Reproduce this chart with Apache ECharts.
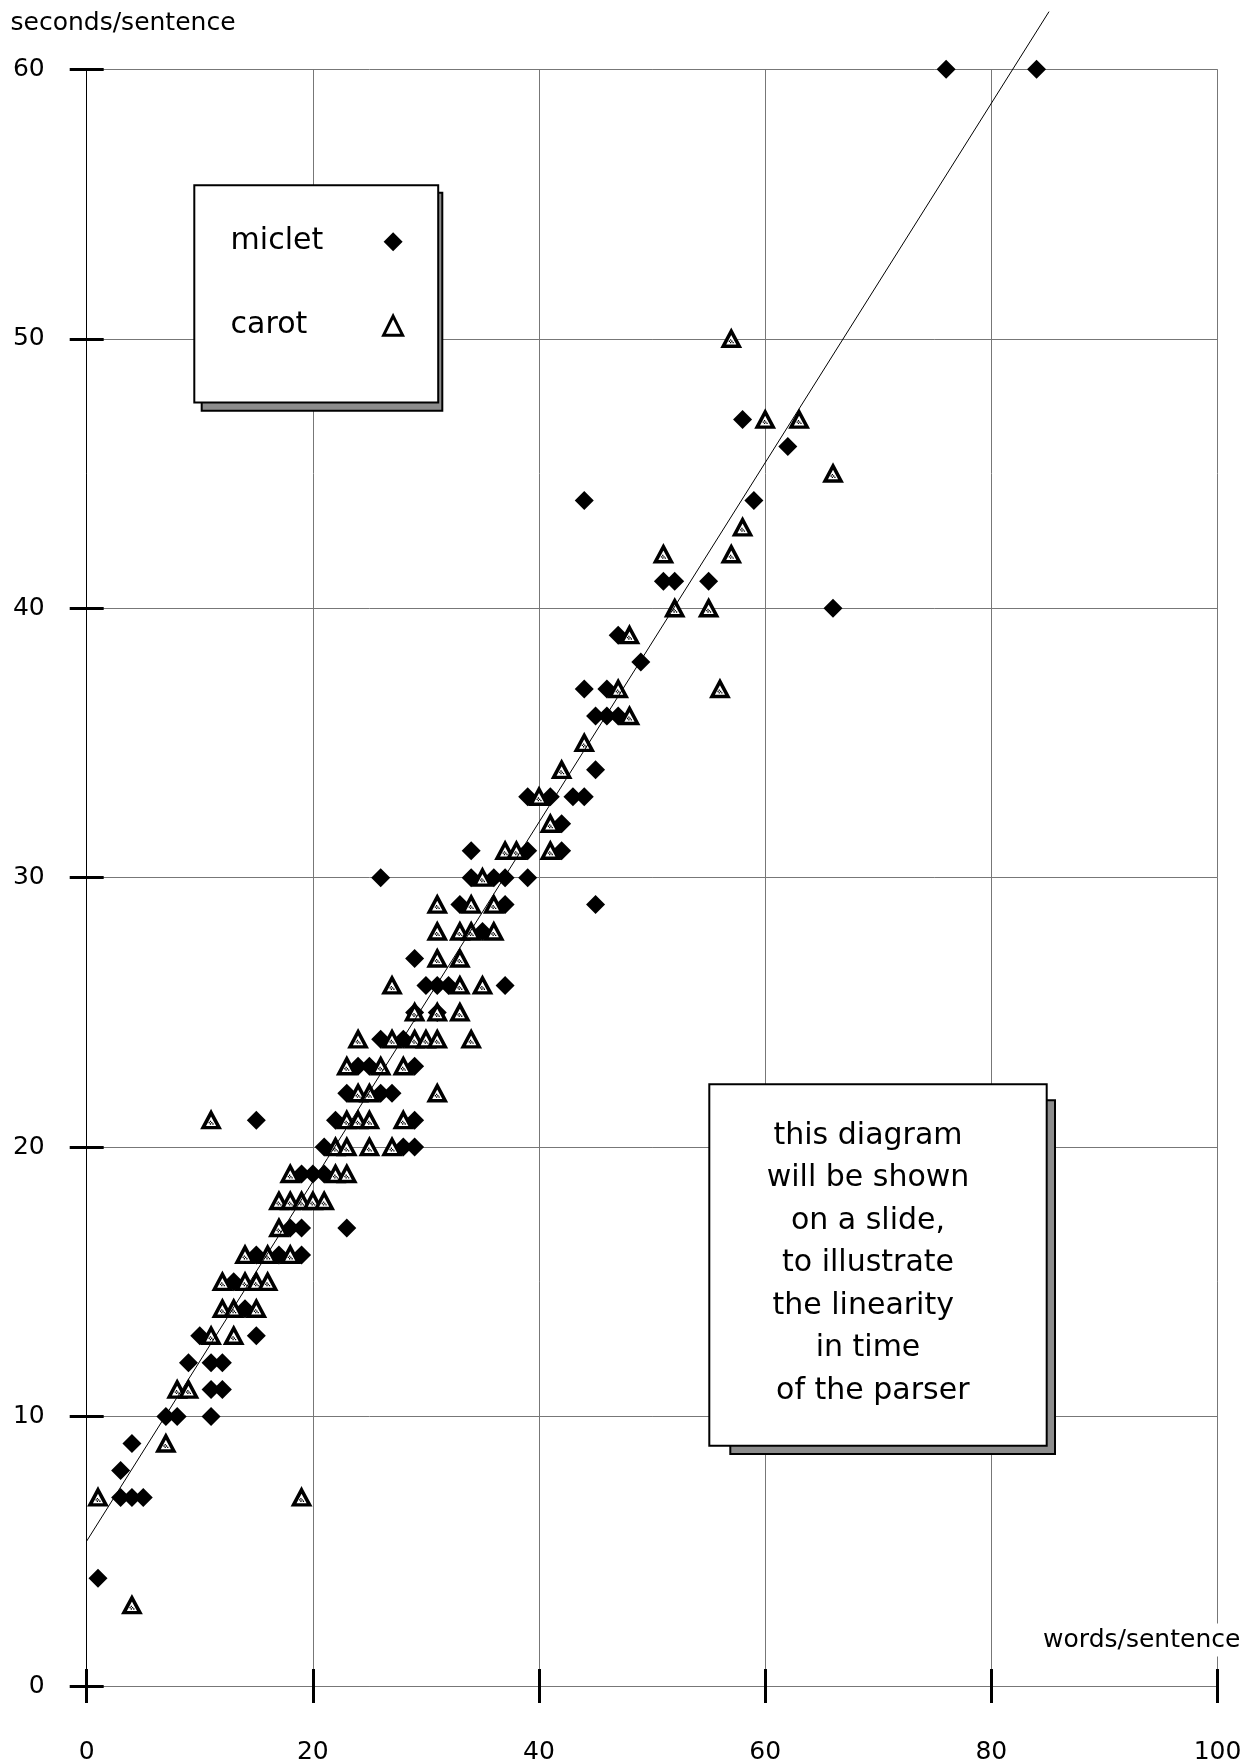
<!DOCTYPE html>
<html>
<head>
<meta charset="utf-8">
<script src="https://cdn.jsdelivr.net/npm/echarts@6/dist/echarts.min.js"></script>
<style>
html,body{margin:0;padding:0;background:#fff;}
#c{width:1256px;height:1764px;}
</style>
</head>
<body>
<div id="c"></div>
<script>
// ---- data ----
const seriesNames = ['miclet', 'carot'];
const xAxisTitle = 'words/sentence';
const yAxisTitle = 'seconds/sentence';
const xTickValues = [0, 20, 40, 60, 80, 100];
const yTickValues = [0, 10, 20, 30, 40, 50, 60];

// [words/sentence, seconds/sentence]
const micletPoints = [
  [76,60],[84,60],
  [58,47],[62,46],[44,44],[59,44],
  [51,41],[52,41],[55,41],[66,40],
  [47,39],[49,38],[44,37],[46,37],
  [45,36],[46,36],[47,36],[45,34],
  [39,33],[41,33],[43,33],[44,33],[42,32],
  [34,31],[39,31],[42,31],
  [26,30],[34,30],[36,30],[37,30],[39,30],
  [33,29],[37,29],[45,29],[35,28],[29,27],
  [30,26],[31,26],[32,26],[37,26],
  [29,25],[31,25],
  [26,24],[28,24],
  [24,23],[25,23],[29,23],
  [23,22],[26,22],[27,22],
  [15,21],[22,21],[29,21],
  [21,20],[28,20],[29,20],
  [19,19],[20,19],[21,19],
  [18,17],[19,17],[23,17],
  [15,16],[17,16],[19,16],
  [13,15],[14,14],[10,13],[15,13],
  [9,12],[11,12],[12,12],[11,11],[12,11],
  [7,10],[8,10],[11,10],[4,9],[3,8],
  [3,7],[4,7],[5,7],[1,4]
];

const carotPoints = [
  [57,50],[60,47],[63,47],[66,45],[58,43],[51,42],[57,42],
  [52,40],[55,40],[48,39],[47,37],[56,37],[48,36],[44,35],
  [42,34],[40,33],[41,32],[37,31],[38,31],[41,31],[35,30],
  [31,29],[34,29],[36,29],[31,28],[33,28],[34,28],[36,28],
  [31,27],[33,27],[27,26],[33,26],[35,26],[29,25],[31,25],[33,25],
  [24,24],[27,24],[29,24],[30,24],[31,24],[34,24],
  [23,23],[26,23],[28,23],[24,22],[25,22],[31,22],
  [11,21],[23,21],[24,21],[25,21],[28,21],
  [22,20],[23,20],[25,20],[27,20],
  [18,19],[22,19],[23,19],
  [17,18],[18,18],[19,18],[20,18],[21,18],
  [17,17],[14,16],[16,16],[18,16],
  [12,15],[14,15],[15,15],[16,15],
  [12,14],[13,14],[15,14],[11,13],[13,13],
  [8,11],[9,11],[7,9],[1,7],[19,7],[4,3]
];

// fitted straight line (end points)
const fitLine = [[0, 5.38], [85.1, 62.14]];

const noteLines = [
  'this diagram', 'will be shown', 'on a slide,', 'to illustrate',
  'the linearity ', 'in time', ' of the parser'
];

// ---- chart ----
const FONT = '"DejaVu Sans", Verdana, sans-serif';
const chart = echarts.init(document.getElementById('c'), null, {renderer: 'canvas'});

const xMin = xTickValues[0], xMax = xTickValues[xTickValues.length - 1];
const xInt = xTickValues[1] - xTickValues[0];
const yMin = yTickValues[0], yMax = yTickValues[yTickValues.length - 1];
const yInt = yTickValues[1] - yTickValues[0];

const GRID = {left: 86.7, top: 69.3, width: 1130.8, height: 1616.7};
const GRID_COLOR = '#777';
// small dithered speck drawn inside each triangle
const SPECK = 'path://M1,0h1v1h-1z M0,1h1v1h-1z M2,1h1v1h-1z M1,2h1v1h-1z M3,2h1v1h-1z';

function baseX(extra) {
  return Object.assign({
    type: 'value', gridIndex: 0, position: 'bottom',
    min: xMin, max: xMax, interval: xInt
  }, extra);
}
function baseY(extra) {
  return Object.assign({
    type: 'value', gridIndex: 0, position: 'left',
    min: yMin, max: yMax, interval: yInt
  }, extra);
}

const option = {
  animation: false,
  backgroundColor: '#fff',
  grid: Object.assign({outerBoundsMode: 'none', containLabel: false}, GRID),
  xAxis: [
    baseX({
      axisLine: {show: true, onZero: false, lineStyle: {color: GRID_COLOR, width: 1}},
      axisTick: {show: true, inside: false, length: 17, lineStyle: {color: '#000', width: 3}},
      axisLabel: {show: true, margin: 54, fontSize: 25, color: '#000', fontFamily: FONT,
                  showMinLabel: true, showMaxLabel: true},
      splitLine: {show: true, lineStyle: {color: GRID_COLOR, width: 1}}
    }),
    baseX({
      axisLine: {show: false},
      axisTick: {show: true, inside: true, length: 17, lineStyle: {color: '#000', width: 3}},
      axisLabel: {show: false},
      splitLine: {show: false}
    })
  ],
  yAxis: [
    baseY({
      axisLine: {show: true, onZero: false, lineStyle: {color: '#000', width: 1}},
      axisTick: {show: true, inside: false, length: 17, lineStyle: {color: '#000', width: 3}},
      axisLabel: {show: true, margin: 42, fontSize: 25, color: '#000', fontFamily: FONT,
                  showMinLabel: true, showMaxLabel: true},
      splitLine: {show: true, lineStyle: {color: GRID_COLOR, width: 1}}
    }),
    baseY({
      axisLine: {show: false},
      axisTick: {show: true, inside: true, length: 17, lineStyle: {color: '#000', width: 3}},
      axisLabel: {show: false},
      splitLine: {show: false}
    })
  ],
  legend: {
    data: [
      {name: seriesNames[0]},
      {name: seriesNames[1], itemStyle: {borderWidth: 3}}
    ],
    orient: 'vertical',
    left: 194.3, top: 185.3,
    align: 'right',
    itemWidth: 19, itemHeight: 19, itemGap: 54,
    padding: [41.4, 34.1, 61.8, 36.3],
    backgroundColor: '#fff',
    borderColor: '#000', borderWidth: 2, borderRadius: 0,
    selectedMode: false,
    formatter: '{t|{name}}',
    textStyle: {
      fontSize: 30, fontFamily: FONT, color: '#000',
      rich: {t: {width: 148, align: 'left', fontSize: 30, lineHeight: 30, fontFamily: FONT, color: '#000'}}
    },
    z: 6
  },
  series: [
    {
      name: seriesNames[0], type: 'scatter',
      xAxisIndex: 0, yAxisIndex: 0,
      data: micletPoints,
      symbol: 'diamond', symbolSize: 19,
      itemStyle: {color: '#000', opacity: 1},
      emphasis: {disabled: true},
      z: 2
    },
    {
      name: seriesNames[1], type: 'scatter',
      xAxisIndex: 0, yAxisIndex: 0,
      data: carotPoints,
      symbol: 'triangle', symbolSize: [16, 15],
      itemStyle: {color: '#fff', borderColor: '#000', borderWidth: 3.5, opacity: 1},
      emphasis: {disabled: true},
      z: 3
    },
    {
      // dither speck inside the carot triangles (same data, not in legend)
      name: 'carot-texture', type: 'scatter',
      xAxisIndex: 0, yAxisIndex: 0,
      data: carotPoints,
      symbol: SPECK, symbolSize: [5, 4], symbolOffset: [0, 2.5],
      itemStyle: {color: '#000', opacity: 1},
      silent: true,
      emphasis: {disabled: true},
      z: 3
    },
    {
      name: 'fit', type: 'line',
      xAxisIndex: 0, yAxisIndex: 0,
      data: fitLine,
      symbol: 'none', showSymbol: false,
      clip: false, silent: true,
      lineStyle: {color: '#000', width: 1},
      z: 4
    }
  ],
  graphic: [
    // axis titles
    {
      type: 'text', x: 10.5, y: 23, z: 10,
      style: {text: yAxisTitle, font: '25px ' + FONT, fill: '#000',
              textAlign: 'left', align: 'left', textVerticalAlign: 'middle', verticalAlign: 'middle'}
    },
    {
      type: 'text', x: 1141.7, y: 1640, z: 10,
      style: {text: xAxisTitle, font: '25px ' + FONT, fill: '#000',
              textAlign: 'center', align: 'center', textVerticalAlign: 'middle', verticalAlign: 'middle',
              backgroundColor: '#fff', padding: [4, 3, 4, 3]}
    },
    // legend drop shadow
    {
      type: 'rect', z: 5,
      shape: {x: 201.7, y: 192.7, width: 240.6, height: 218},
      style: {fill: '#8c8c8c', stroke: '#000', lineWidth: 2}
    },
    // note box: shadow, box, text
    {
      type: 'rect', z: 5,
      shape: {x: 730.3, y: 1100.3, width: 324.7, height: 353.7},
      style: {fill: '#8c8c8c', stroke: '#000', lineWidth: 2}
    },
    {
      type: 'rect', z: 6,
      shape: {x: 709.3, y: 1084.3, width: 337.4, height: 361.4},
      style: {fill: '#fff', stroke: '#000', lineWidth: 2}
    },
    {
      type: 'text', x: 868, y: 1114.5, z: 7,
      style: {text: noteLines.join('\n'), font: '30px ' + FONT, fill: '#000',
              lineHeight: 42.5,
              textAlign: 'center', align: 'center', textVerticalAlign: 'top', verticalAlign: 'top'}
    }
  ]
};

chart.setOption(option);
</script>
</body>
</html>
